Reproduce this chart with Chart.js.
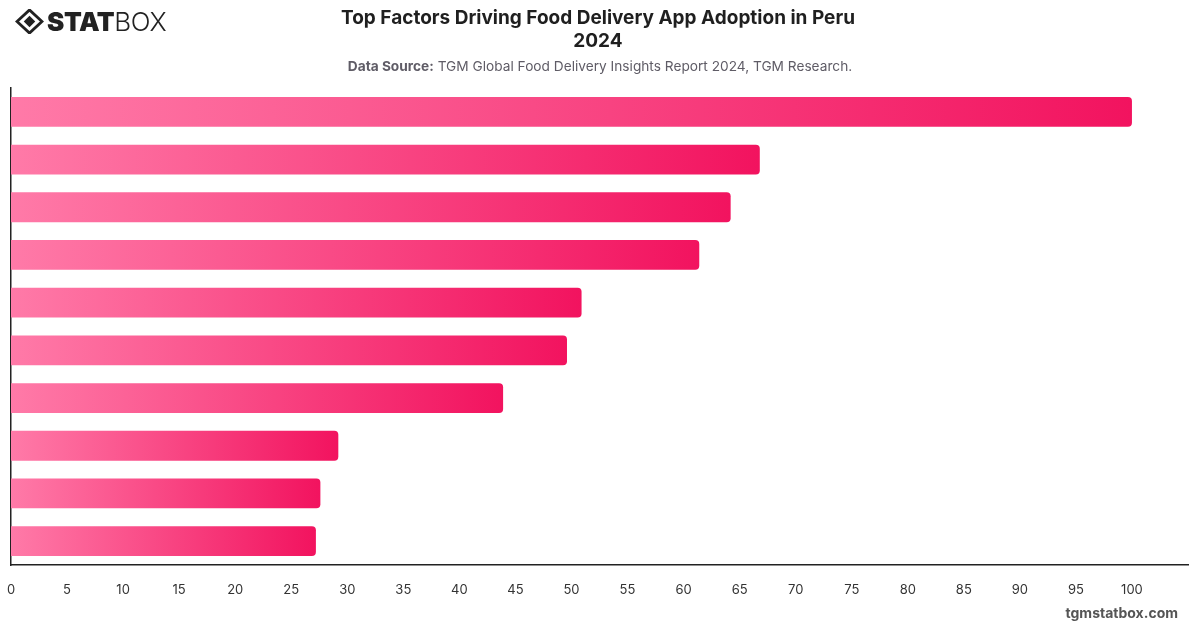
<!DOCTYPE html>
<html>
<head>
<meta charset="utf-8">
<script src="https://cdn.jsdelivr.net/npm/chart.js@4.4.0/dist/chart.umd.min.js"></script>
<style>
  html, body { margin: 0; padding: 0; background: #fff; }
  #wrap { position: relative; width: 1200px; height: 628px; font-family: Inter, "Helvetica Neue", Arial, sans-serif; }
  #c { position: absolute; left: 0; top: 0; }
  .title { position: absolute; left: 0; width: 1196px; text-align: center; font-weight: 700; font-size: 19px; color: #1f1f1f; line-height: 23px; top: 6px; }
  .sub { position: absolute; left: 0; width: 1200px; text-align: center; font-size: 13.7px; color: #5f5c66; top: 58px; }
  .sub b { font-weight: 700; }
  .logo { position: absolute; left: 15px; top: 6px; font-size: 26px; color: #222; letter-spacing: -0.4px; display: flex; align-items: center; }
  .logo b { font-weight: 900; }
  .logo span { font-weight: 300; }
  .foot { position: absolute; right: 22px; top: 604px; font-size: 14px; font-weight: 700; color: #555; }
</style>
</head>
<body>
<div id="wrap">
  <canvas id="c" width="1200" height="628"></canvas>
  <div class="logo"><svg width="29" height="25" viewBox="0 0 30 26" style="margin-right:3px"><path d="M15 1 L28 13 L15 25 L2 13 Z" fill="none" stroke="#222" stroke-width="3"/><path d="M15 7 L21 13 L15 19 L9 13 Z" fill="#222"/></svg><b>STAT</b><span>BOX</span></div>
  <div class="title">Top Factors Driving Food Delivery App Adoption in Peru<br>2024</div>
  <div class="sub"><b>Data Source:</b> TGM Global Food Delivery Insights Report 2024, TGM Research.</div>
  <div class="foot">tgmstatbox.com</div>
</div>
<script>
const categories = [
  "Convenience",
  "Time saving",
  "Variety of restaurants",
  "Promotions and discounts",
  "Easy payment options",
  "Fast delivery",
  "Contactless delivery",
  "Loyalty programs",
  "Recommendations from friends",
  "Live order tracking"
];
const values = [100, 66.8, 64.2, 61.4, 50.9, 49.6, 43.9, 29.2, 27.6, 27.2];
const tickValues = [0, 5, 10, 15, 20, 25, 30, 35, 40, 45, 50, 55, 60, 65, 70, 75, 80, 85, 90, 95, 100];

function barGradient(ctx) {
  const chart = ctx.chart;
  const area = chart.chartArea;
  if (!area || ctx.type !== 'data') return '#f2135f';
  const xs = chart.scales.x;
  const x0 = xs.getPixelForValue(0);
  const x1 = xs.getPixelForValue(ctx.raw);
  const g = chart.ctx.createLinearGradient(x0, 0, Math.max(x1, x0 + 1), 0);
  g.addColorStop(0, '#ff7aa8');
  g.addColorStop(1, '#f2135f');
  return g;
}

new Chart(document.getElementById('c'), {
  type: 'bar',
  data: {
    labels: categories,
    datasets: [{
      data: values,
      backgroundColor: barGradient,
      borderRadius: 4,
      borderSkipped: 'start',
      barPercentage: 0.78,
      categoryPercentage: 0.8
    }]
  },
  options: {
    indexAxis: 'y',
    responsive: false,
    animation: false,
    layout: { padding: { top: 88, left: 11, right: 12, bottom: 0 } },
    plugins: { legend: { display: false }, title: { display: false }, tooltip: { enabled: true } },
    scales: {
      x: {
        min: 0, max: 105,
        afterBuildTicks: (axis) => { axis.ticks = tickValues.map(v => ({ value: v })); },
        afterFit: (scale) => { scale.paddingLeft = 0; scale.paddingRight = 0; scale.height = 63; },
        grid: { display: false, drawTicks: false },
        border: { display: true, color: '#222', width: 1.5 },
        ticks: { color: '#333', font: { family: 'Inter, Arial, sans-serif', size: 13 }, padding: 17, maxRotation: 0, autoSkip: false }
      },
      y: {
        afterFit: (scale) => { scale.width = 0; scale.paddingTop = 0; scale.paddingBottom = 0; },
        grid: { display: false, drawTicks: false },
        border: { display: true, color: '#222', width: 1.5 },
        ticks: { display: false }
      }
    }
  }
});
</script>
</body>
</html>
